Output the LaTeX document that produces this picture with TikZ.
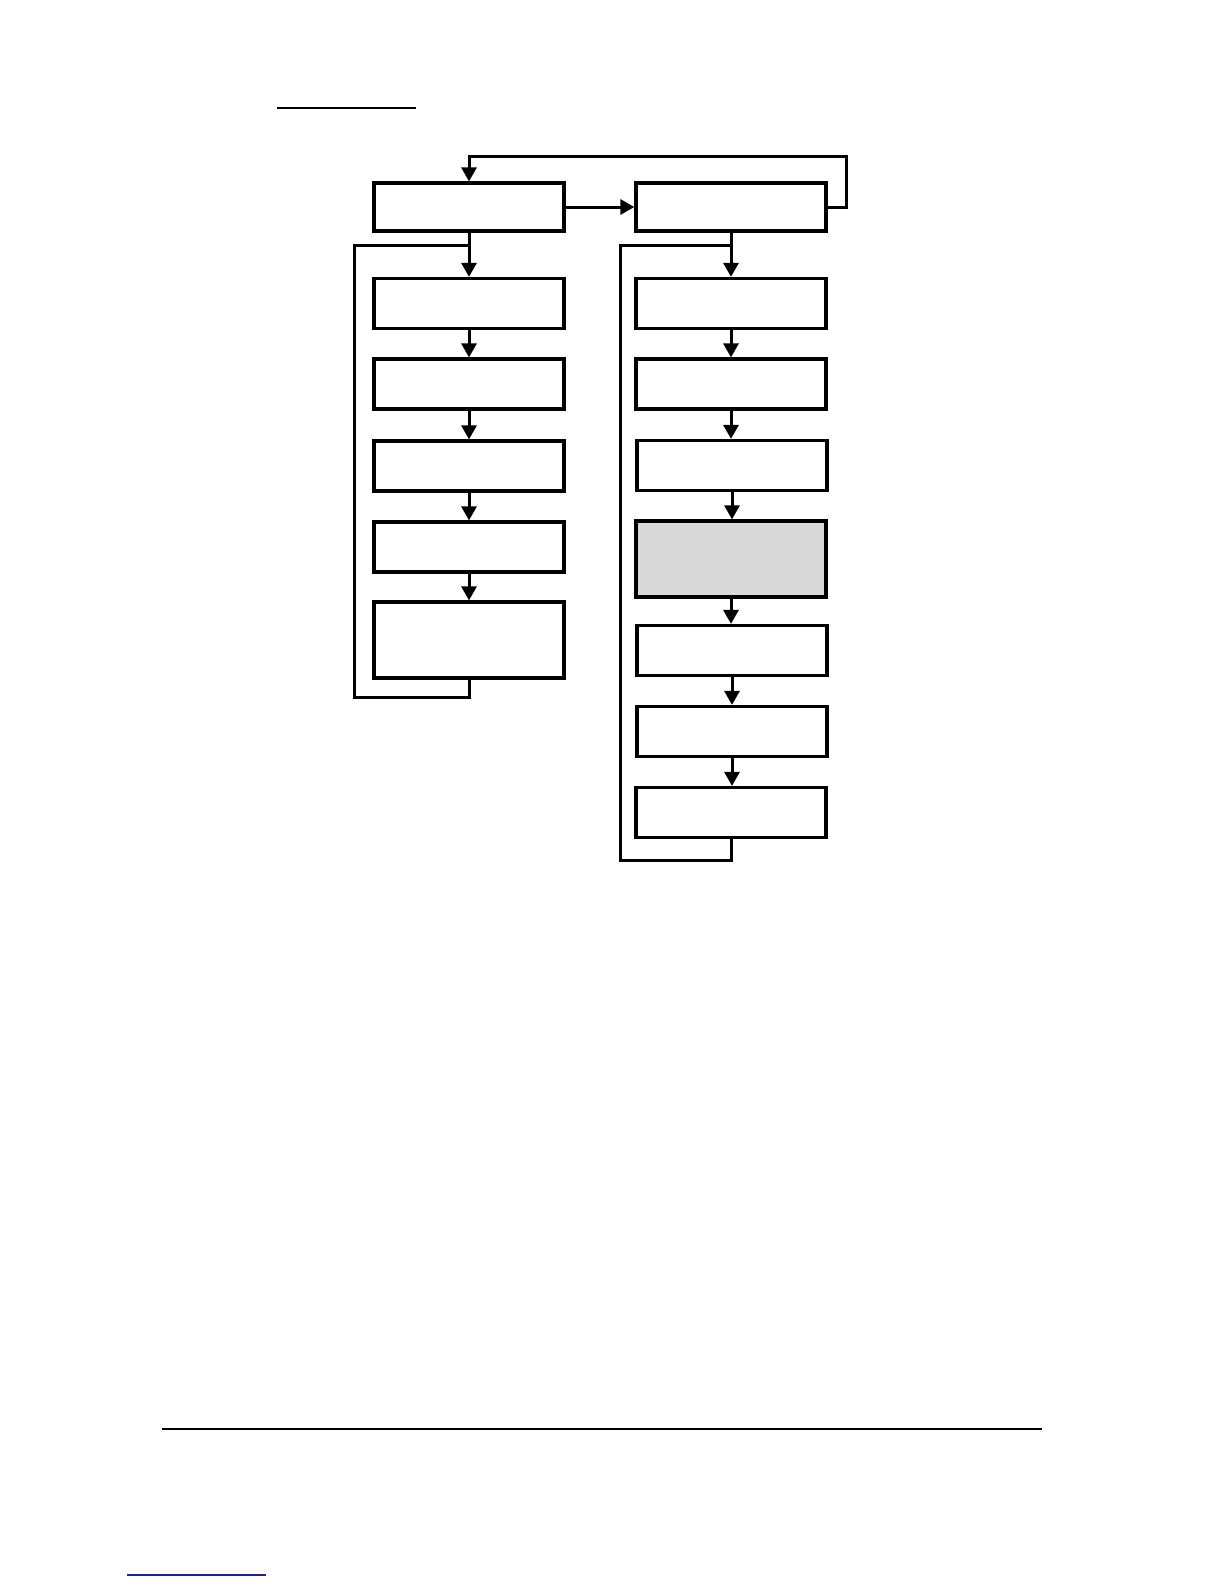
\documentclass[tikz,border=0pt]{standalone}
\usetikzlibrary{arrows.meta}
\definecolor{boxgray}{RGB}{217,217,217}
\definecolor{linkblue}{RGB}{32,32,150}

\begin{document}
\begin{tikzpicture}[x=0.5bp,y=-0.5bp,
  box/.style={draw,line width=1.6bp,rectangle,minimum width=95bp,minimum height=25bp,inner sep=0pt},
  tall/.style={minimum height=38bp},
  wire/.style={line width=1.5bp},
  flow/.style={wire,-{Triangle[length=7bp,width=7.5bp]}}]
\useasboundingbox (0,0) rectangle (1224,1584);
% page rules
\draw [line width=0.8bp] (277,108) -- (416,108);
\draw [line width=1bp] (162,1429) -- (1042,1429);
\draw [line width=1bp,linkblue] (127,1575) -- (266,1575);
% left column
\node [box,minimum height=24bp] (l0) at (469,207) {};
\node [box] (l1) at (469,303.5) {};
\node [box] (l2) at (469,384) {};
\node [box] (l3) at (469,466) {};
\node [box] (l4) at (469,547) {};
\node [box,tall] (l5) at (469,640) {};
% right column
\node [box,minimum height=24bp] (r0) at (731,207) {};
\node [box] (r1) at (731,303.5) {};
\node [box] (r2) at (731,384) {};
\node [box] (r3) at (732,465.5) {};
\node [box,tall,fill=boxgray] (r4) at (731,559) {};
\node [box] (r5) at (732,650.5) {};
\node [box] (r6) at (732,731.5) {};
\node [box] (r7) at (731,812.5) {};
\coordinate (ljoin) at (469,245);
\coordinate (rjoin) at (731,245);
\coordinate (ltop) at (469,156);
% arrows
\draw [flow] (l0) -- (r0);
\draw [flow] (r0.east) -- ++(19,0) |- (ltop) -- (l0.north);
\draw [flow] (l0.south) -- (l1.north);
\draw [flow] (l1.south) -- (l2.north);
\draw [flow] (l2.south) -- (l3.north);
\draw [flow] (l3.south) -- (l4.north);
\draw [flow] (l4.south) -- (l5.north);
\draw [wire] (l5.south) -- ++(0,18) -| (354,245) -- (ljoin);
\draw [flow] (r0.south) -- (r1.north);
\draw [flow] (r1.south) -- (r2.north);
\draw [flow] (r2.south) -- (r3.north -| r2.south);
\draw [flow] (r3.south) -- (r4.north -| r3.south);
\draw [flow] (r4.south) -- (r5.north -| r4.south);
\draw [flow] (r5.south) -- (r6.north);
\draw [flow] (r6.south) -- (r7.north -| r6.south);
\draw [wire] (r7.south) -- ++(0,21) -| (620,245) -- (rjoin);
\end{tikzpicture}
\end{document}
